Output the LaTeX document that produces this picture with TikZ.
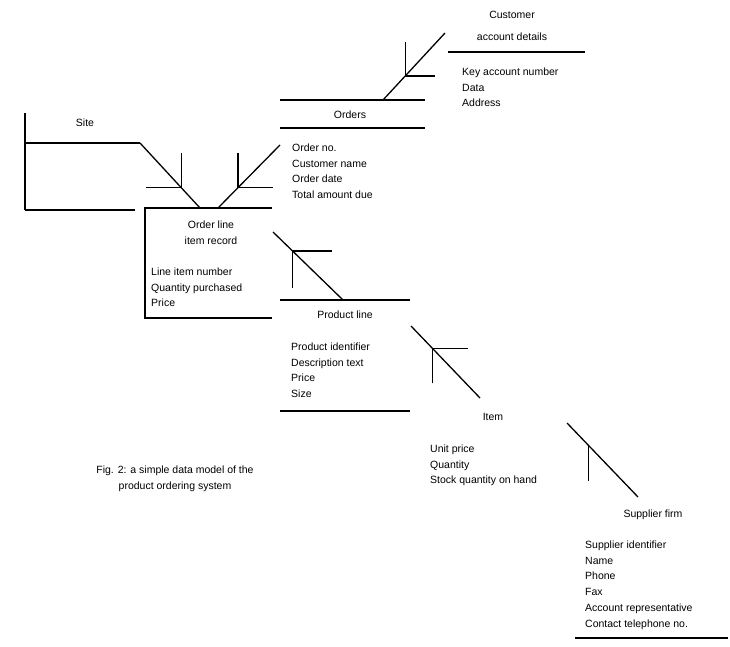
\documentclass[tikz,border=0pt]{standalone}
\usepackage{fontspec}
\setmainfont{Liberation Sans}
\usetikzlibrary{arrows.meta,positioning,decorations.markings}

\begin{document}
\begin{tikzpicture}[x=1pt,y=-1pt,font=\fontsize{10.5}{15.8}\selectfont,
 ent/.style={line width=1.6pt},
 attr/.style={anchor=north west,align=left,inner sep=0pt},
 title/.style={align=center,inner sep=0pt},
 rel/.style n args={3}{line width=1.3pt,postaction={decorate},
  decoration={markings,mark=at position #1 with {\pgftransformresetnontranslations
   \draw[line width=1.3pt,line join=miter] (#2) -- (0pt,0pt) -- (#3);}}}]
\useasboundingbox (0,0) rectangle (730,647);

\node[title] (site) at (85,123) {Site};
\draw[ent] (25,113) -- (25,210);
\draw[ent] (25,143) -- (140,143);
\draw[ent] (25,210) -- (135,210);
\coordinate (siteout) at (140,143);

\node[title,font=\fontsize{10.5}{22}\selectfont] (cust) at (512,26) {Customer\\account details};
\draw[ent] (448,52) -- (585,52);
\node[attr] (custat) at (462,67.5) {Key account number\\Data\\Address};
\coordinate (custout) at (445,33);

\draw[ent] (280,100) -- (425,100);
\node[title] (ord) at (350,115) {Orders};
\draw[ent] (280,128) -- (425,128);
\node[attr] (ordat) at (292,143.5) {Order no.\\Customer name\\Order date\\Total amount due};
\coordinate (ordin) at (383,100);
\coordinate (ordout) at (280,145);

\draw[ent] (272,208) -- (145,208) -- (145,318) -- (272,318);
\node[title] (inv) at (211,233) {Order line\\item record};
\node[attr] (invat) at (151,267.5) {Line item number\\Quantity purchased\\Price};
\coordinate (invl) at (200,208);
\coordinate (invr) at (218,208);
\coordinate (invs) at (273,232);

\draw[ent] (280,300) -- (410,300);
\node[title] (prod) at (345,315) {Product line};
\node[attr] (prodat) at (291,342.5) {Product identifier\\Description text\\Price\\Size};
\draw[ent] (280,411) -- (410,411);
\coordinate (prodout) at (343,300);
\coordinate (prodin) at (411,326);

\node[title] (item) at (493,417) {Item};
\node[attr] (itemat) at (430,444.5) {Unit price\\Quantity\\Stock quantity on hand};
\coordinate (itemout) at (480,398);
\coordinate (itemin) at (567,423);

\node[title] (supp) at (653,515) {Supplier firm};
\node[attr] (suppat) at (585,540.5) {Supplier identifier\\Name\\Phone\\Fax\\Account representative\\Contact telephone no.};
\draw[ent] (575,638) -- (728,638);
\coordinate (suppout) at (638,497);

\node[title] (note) at (175,479) {Fig. 2: a simple data model of the\\product ordering system};

\draw[rel={0.69}{0pt,35pt}{-35pt,0pt}] (siteout) -- (invl);
\draw[rel={0.68}{0pt,35pt}{35pt,0pt}] (ordout) -- (invr);
\draw[rel={0.64}{0pt,34pt}{30pt,0pt}] (custout) -- (ordin);
\draw[rel={0.72}{0pt,-37pt}{39pt,0pt}] (prodout) -- (invs);
\draw[rel={0.69}{0pt,-35pt}{36pt,0pt}] (itemout) -- (prodin);
\draw[rel={0.70}{0pt,-36pt}{0pt,0pt}] (suppout) -- (itemin);
\end{tikzpicture}
\end{document}
